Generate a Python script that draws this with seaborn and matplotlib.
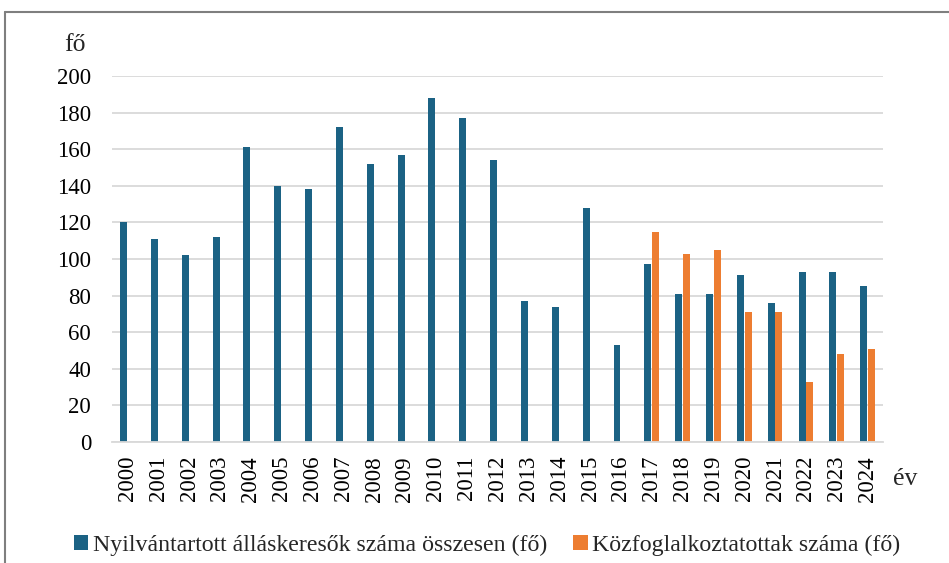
import numpy as np
import pandas as pd
import matplotlib
matplotlib.use("Agg")
import matplotlib.pyplot as plt
from matplotlib.lines import Line2D
import seaborn as sns

years = [str(y) for y in range(2000, 2025)]
jobseekers = [120, 111, 102, 112, 161, 140, 138, 172, 152, 157, 188, 177, 154,
              77, 74, 128, 53, 97, 81, 81, 91, 76, 93, 93, 85]
public_workers = [np.nan] * 17 + [115, 103, 105, 71, 71, 33, 48, 51]
series_names = ["Nyilvántartott álláskeresők száma összesen (fő)",
                "Közfoglalkoztatottak száma (fő)"]
colors = ["#1B6284", "#ED7D31"]
y_ticks = [0, 20, 40, 60, 80, 100, 120, 140, 160, 180, 200]

df = pd.DataFrame({
    "év": years * 2,
    "fő": jobseekers + public_workers,
    "sorozat": [series_names[0]] * len(years) + [series_names[1]] * len(years),
})

sns.set_theme(style="white")
plt.rcParams["font.family"] = ["Liberation Serif", "DejaVu Serif"]

fig = plt.figure(figsize=(9.49, 5.63), dpi=100)
ax = fig.add_axes([112 / 949, 1 - 442 / 563, 771 / 949, 366 / 563])

sns.barplot(data=df, x="év", y="fő", hue="sorozat", order=years,
            hue_order=series_names, palette=colors, saturation=1, width=0.5, gap=0.1,
            linewidth=0, ax=ax, legend=True)

ax.set_ylim(0, 200)
ax.set_yticks(y_ticks)
ax.set_xlim(-0.5, len(years) - 0.5)
ax.yaxis.grid(True, color="#D9D9D9", linewidth=1.3)
ax.set_axisbelow(True)
for s in ["top", "right", "left"]:
    ax.spines[s].set_visible(False)
ax.spines["bottom"].set_color("#D9D9D9")
ax.spines["bottom"].set_linewidth(1.3)
ax.tick_params(axis="x", length=0, pad=10, labelsize=16.5, rotation=90, colors="black")
ax.tick_params(axis="y", length=0, pad=15, labelsize=16.5, colors="black")
ax.set_xlabel("")
ax.set_ylabel("")

fig.text(75 / 949, 1 - 45 / 563, "fő", fontsize=18.5, ha="center", va="center")
fig.text(905 / 949, 1 - 479 / 563, "év", fontsize=18.5, ha="center", va="center")

handles, labels = ax.get_legend_handles_labels()
ax.legend_.remove()
fig.legend(handles, labels, loc="center", bbox_to_anchor=(487 / 949, 1 - 545 / 563),
           ncol=2, frameon=False, fontsize=17.2, handlelength=0.6, handleheight=0.6,
           handletextpad=0.2, columnspacing=1.1)

# outer border
fig.add_artist(Line2D([5 / 949, 5 / 949], [0, 1 - 12 / 563], transform=fig.transFigure,
                      color="#7F7F7F", linewidth=1.5))
fig.add_artist(Line2D([5 / 949, 1], [1 - 12 / 563, 1 - 12 / 563], transform=fig.transFigure,
                      color="#7F7F7F", linewidth=1.5))

fig.savefig("out.png", dpi=100)
